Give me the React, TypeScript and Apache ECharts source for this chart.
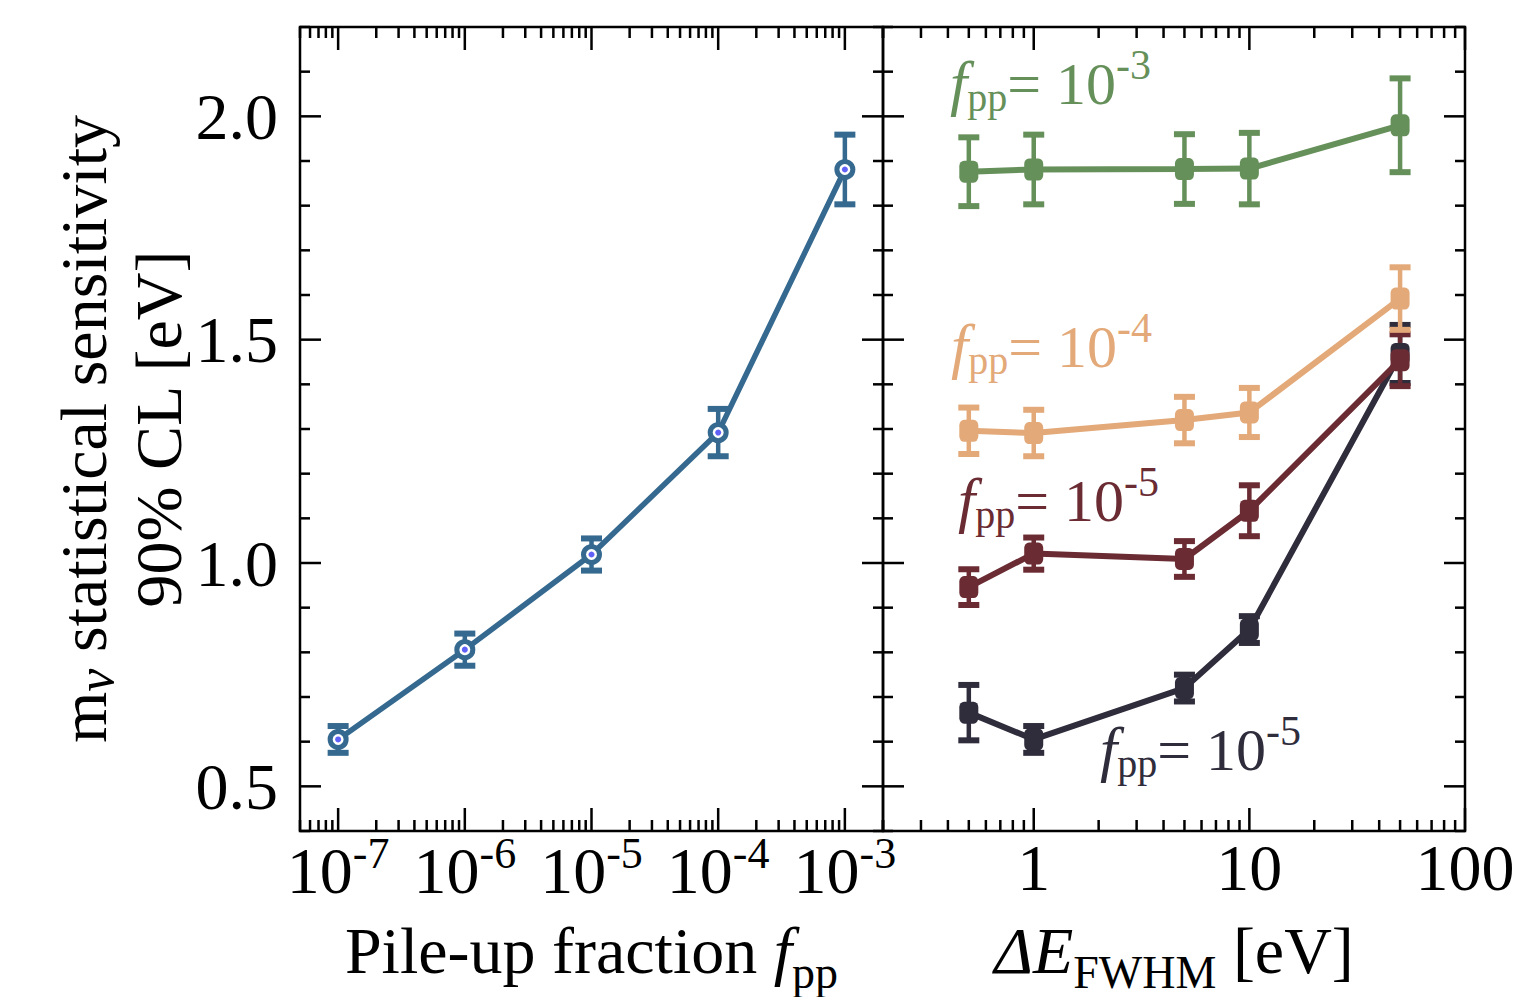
import React, { useEffect, useRef } from 'react';
import * as echarts from 'echarts';

const FONT = '"Liberation Serif", "Times New Roman", serif';

// ---- data ----
const fppValues = [1e-7, 1e-6, 1e-5, 1e-4, 1e-3];
const fppSens = [0.605, 0.806, 1.019, 1.292, 1.881];
const fppErr = [0.03, 0.036, 0.036, 0.053, 0.078];

const fwhmValues = [0.5, 1, 5, 10, 50];
const sensF3 = [1.876, 1.881, 1.882, 1.883, 1.98];
const errF3 = [0.077, 0.078, 0.078, 0.08, 0.105];
const sensF4 = [1.296, 1.291, 1.32, 1.337, 1.592];
const errF4 = [0.052, 0.052, 0.052, 0.055, 0.07];
const sensF5a = [0.946, 1.021, 1.009, 1.117, 1.454];
const errF5a = [0.04, 0.036, 0.04, 0.057, 0.058];
const sensF5b = [0.665, 0.605, 0.72, 0.851, 1.468];
const errF5b = [0.062, 0.03, 0.03, 0.03, 0.065];

const yTickLabels = ['0.5', '1.0', '1.5', '2.0'];
const leftExponents = ['-7', '-6', '-5', '-4', '-3'];
const rightTickLabels = ['1', '10', '100'];

// ---- axis ranges ----
const Y_MIN = 0.4;
const Y_MAX = 2.2;
const L_MIN = 5e-8;
const L_MAX = 2e-3;
const R_MIN = 0.2;
const R_MAX = 100;

const BLUE = '#35698f';
const GREEN = '#66905a';
const PEACH = '#e3a978';
const DRED = '#6a2b33';
const NAVY = '#2f2c3c';

function logTicks(min: number, max: number, k0: number, k1: number) {
  const out: number[][] = [];
  for (let k = k0; k <= k1; k++) {
    for (let m = 1; m <= 9; m++) {
      const v = m * Math.pow(10, k);
      if (v >= min * 0.9999 && v <= max * 1.0001) out.push([v, Y_MIN, m === 1 ? 1 : 0]);
    }
  }
  return out;
}

function yTicks(xEdge: number) {
  const out: number[][] = [];
  for (let i = 0; i <= 18; i++) {
    const y = Math.round((Y_MIN + 0.1 * i) * 10) / 10;
    const major = Math.abs(y * 2 - Math.round(y * 2)) < 1e-6 ? 1 : 0;
    out.push([xEdge, y, major]);
  }
  return out;
}

const xTickRender = () => (params: any, api: any) => {
  const v = api.value(0);
  const major = api.value(2) === 1;
  const b = api.coord([v, Y_MIN]);
  const t = api.coord([v, Y_MAX]);
  const len = major ? 23 : 11;
  const st = { stroke: '#000', lineWidth: 2.5 };
  return {
    type: 'group',
    children: [
      { type: 'line', shape: { x1: b[0], y1: b[1], x2: b[0], y2: b[1] - len }, style: st },
      { type: 'line', shape: { x1: t[0], y1: t[1], x2: t[0], y2: t[1] + len }, style: st },
    ],
  };
};

const yTickRender = (xMin: number, xMax: number) => (params: any, api: any) => {
  const y = api.value(1);
  const major = api.value(2) === 1;
  const l = api.coord([xMin, y]);
  const r = api.coord([xMax, y]);
  const len = major ? 21 : 10;
  const st = { stroke: '#000', lineWidth: 2.5 };
  return {
    type: 'group',
    children: [
      { type: 'line', shape: { x1: l[0], y1: l[1], x2: l[0] + len, y2: l[1] }, style: st },
      { type: 'line', shape: { x1: r[0], y1: r[1], x2: r[0] - len, y2: r[1] }, style: st },
    ],
  };
};

const errRender = (color: string) => (params: any, api: any) => {
  const x = api.value(0);
  const pLo = api.coord([x, api.value(1)]);
  const pHi = api.coord([x, api.value(2)]);
  const hw = 10.5;
  return {
    type: 'group',
    children: [
      { type: 'line', shape: { x1: pLo[0], y1: pLo[1], x2: pHi[0], y2: pHi[1] }, style: { stroke: color, lineWidth: 4.5 } },
      { type: 'line', shape: { x1: pLo[0] - hw, y1: pLo[1], x2: pLo[0] + hw, y2: pLo[1] }, style: { stroke: color, lineWidth: 6 } },
      { type: 'line', shape: { x1: pHi[0] - hw, y1: pHi[1], x2: pHi[0] + hw, y2: pHi[1] }, style: { stroke: color, lineWidth: 6 } },
    ],
  };
};

function errData(xs: number[], ys: number[], es: number[]) {
  return xs.map((x, i) => [x, ys[i] - es[i], ys[i] + es[i]]);
}
function pts(xs: number[], ys: number[]) {
  return xs.map((x, i) => [x, ys[i]]);
}

function isPow10(v: number) {
  const l = Math.log10(v);
  return Math.abs(l - Math.round(l)) < 1e-6;
}

const labelRich = {
  b: { fontFamily: FONT, fontSize: 66, lineHeight: 72, color: '#000', verticalAlign: 'bottom' },
  s: { fontFamily: FONT, fontSize: 44, lineHeight: 72, color: '#000', verticalAlign: 'top' },
};

function annot(text: string, x: number, y: number, color: string) {
  const base = { fontFamily: FONT, fill: color, lineHeight: 70 };
  return {
    type: 'text',
    x,
    y,
    z: 50,
    style: {
      text: text,
      fill: color,
      fontFamily: FONT,
      fontSize: 60,
      verticalAlign: 'top',
      align: 'left',
      rich: {
        f: { ...base, fontSize: 62, fontStyle: 'italic', verticalAlign: 'bottom' },
        sub: { ...base, fontSize: 40, verticalAlign: 'top', padding: [33, 0, 0, 0] },
        eq: { ...base, fontSize: 60, verticalAlign: 'bottom' },
        sup: { ...base, fontSize: 42, verticalAlign: 'top' },
      },
    },
  };
}

function rightLine(name: string, ys: number[], color: string) {
  return {
    name,
    type: 'line',
    xAxisIndex: 1,
    yAxisIndex: 1,
    data: pts(fwhmValues, ys),
    symbol: 'roundRect',
    symbolSize: [19, 22],
    itemStyle: { color },
    lineStyle: { color, width: 6 },
    z: 4,
  };
}

function rightErr(ys: number[], es: number[], color: string) {
  return {
    type: 'custom',
    xAxisIndex: 1,
    yAxisIndex: 1,
    data: errData(fwhmValues, ys, es),
    encode: { x: 0, y: [1, 2] },
    renderItem: errRender(color),
    z: 3,
  };
}

const titleRich = {
  n: { fontFamily: FONT, fontSize: 66, lineHeight: 74, color: '#000', verticalAlign: 'bottom' },
  f: { fontFamily: FONT, fontSize: 66, lineHeight: 74, color: '#000', fontStyle: 'italic', verticalAlign: 'bottom' },
  sub: { fontFamily: FONT, fontSize: 46, lineHeight: 74, color: '#000', verticalAlign: 'top', padding: [40, 0, 0, 0] },
};

export default function App() {
  const ref = useRef<HTMLDivElement>(null);
  useEffect(() => {
    if (!ref.current) return;
    const chart = echarts.init(ref.current, undefined, { renderer: 'svg' });
    const yLabelFmt = (v: number) => {
      const s = (Math.round(v * 10) / 10).toFixed(1);
      return yTickLabels.indexOf(s) >= 0 ? s : '';
    };
    const option: any = {
      animation: false,
      backgroundColor: '#ffffff',
      grid: [
        { left: 300, top: 27, width: 583, height: 804, show: true, borderColor: '#000', borderWidth: 2.5, backgroundColor: 'transparent', containLabel: false, outerBoundsMode: 'none' },
        { left: 883, top: 27, width: 582, height: 804, show: true, borderColor: '#000', borderWidth: 2.5, backgroundColor: 'transparent', containLabel: false, outerBoundsMode: 'none' },
      ],
      xAxis: [
        {
          type: 'log', gridIndex: 0, min: L_MIN, max: L_MAX, logBase: 10,
          axisLine: { show: false }, axisTick: { show: false }, splitLine: { show: false }, minorTick: { show: false },
          axisLabel: {
            margin: 0, rich: labelRich, showMinLabel: false, showMaxLabel: false,
            formatter: (v: number) => {
              if (!isPow10(v)) return '';
              const e = String(Math.round(Math.log10(v)));
              return leftExponents.indexOf(e) >= 0 ? `{b|10}{s|${e}}` : '';
            },
          },
          name: '{n|Pile-up fraction }{f|f}{sub|pp}',
          nameLocation: 'middle',
          nameGap: 78,
          nameTextStyle: { rich: titleRich },
        },
        {
          type: 'log', gridIndex: 1, min: R_MIN, max: R_MAX, logBase: 10,
          axisLine: { show: false }, axisTick: { show: false }, splitLine: { show: false }, minorTick: { show: false },
          axisLabel: {
            margin: 0, fontFamily: FONT, fontSize: 66, color: '#000', lineHeight: 72, showMinLabel: false,
            formatter: (v: number) => {
              if (!isPow10(v)) return '';
              const s = String(Math.round(v));
              return rightTickLabels.indexOf(s) >= 0 ? s : '';
            },
          },
          name: '{f|ΔE}{sub|FWHM}{n| [eV]}',
          nameLocation: 'middle',
          nameGap: 78,
          nameTextStyle: { rich: titleRich },
        },
      ],
      yAxis: [
        {
          type: 'value', gridIndex: 0, min: Y_MIN, max: Y_MAX, interval: 0.1,
          axisLine: { show: false }, axisTick: { show: false }, splitLine: { show: false },
          axisLabel: { margin: 22, fontFamily: FONT, fontSize: 66, color: '#000', formatter: yLabelFmt },
          name: '{n|m}{nu|ν}{n| statistical sensitivity}\n{n|90% CL [eV]}',
          nameLocation: 'middle',
          nameRotate: 90,
          nameGap: 102,
          nameTextStyle: {
            align: 'center',
            rich: {
              n: { fontFamily: FONT, fontSize: 66, lineHeight: 75, color: '#000', verticalAlign: 'bottom', align: 'center' },
              nu: { fontFamily: FONT, fontSize: 52, lineHeight: 75, color: '#000', fontStyle: 'italic', verticalAlign: 'top', padding: [28, 0, 0, 0] },
            },
          },
        },
        {
          type: 'value', gridIndex: 1, min: Y_MIN, max: Y_MAX, interval: 0.1,
          axisLine: { show: false }, axisTick: { show: false }, splitLine: { show: false },
          axisLabel: { show: false },
        },
      ],
      graphic: [
        annot('{f|f}{sub|pp}{eq|= 10}{sup|-3}', 950, 44, GREEN),
        annot('{f|f}{sub|pp}{eq|= 10}{sup|-4}', 951, 307, PEACH),
        annot('{f|f}{sub|pp}{eq|= 10}{sup|-5}', 958, 461, DRED),
        annot('{f|f}{sub|pp}{eq|= 10}{sup|-5}', 1100, 710, NAVY),
      ],
      series: [
        // ticks
        { type: 'custom', xAxisIndex: 0, yAxisIndex: 0, data: logTicks(L_MIN, L_MAX, -8, -3), encode: { x: 0, y: 1 }, renderItem: xTickRender(), z: 20, silent: true },
        { type: 'custom', xAxisIndex: 0, yAxisIndex: 0, data: yTicks(L_MIN), encode: { x: 0, y: 1 }, renderItem: yTickRender(L_MIN, L_MAX), z: 20, silent: true },
        { type: 'custom', xAxisIndex: 1, yAxisIndex: 1, data: logTicks(R_MIN, R_MAX, -1, 2), encode: { x: 0, y: 1 }, renderItem: xTickRender(), z: 20, silent: true },
        { type: 'custom', xAxisIndex: 1, yAxisIndex: 1, data: yTicks(R_MIN), encode: { x: 0, y: 1 }, renderItem: yTickRender(R_MIN, R_MAX), z: 20, silent: true },
        // left panel
        {
          type: 'custom', xAxisIndex: 0, yAxisIndex: 0,
          data: errData(fppValues, fppSens, fppErr), encode: { x: 0, y: [1, 2] },
          renderItem: errRender(BLUE), z: 3,
        },
        {
          type: 'line', xAxisIndex: 0, yAxisIndex: 0,
          data: pts(fppValues, fppSens),
          symbol: 'circle', symbolSize: 16,
          itemStyle: { color: '#ffffff', borderColor: BLUE, borderWidth: 5 },
          lineStyle: { color: BLUE, width: 5.5 },
          z: 4,
        },
        {
          type: 'scatter', xAxisIndex: 0, yAxisIndex: 0,
          data: pts(fppValues, fppSens),
          symbol: 'circle', symbolSize: 6,
          itemStyle: { color: '#3a3af5' },
          z: 5,
        },
        // right panel
        rightErr(sensF5b, errF5b, NAVY),
        rightLine('f5b', sensF5b, NAVY),
        rightErr(sensF5a, errF5a, DRED),
        rightLine('f5a', sensF5a, DRED),
        rightErr(sensF4, errF4, PEACH),
        rightLine('f4', sensF4, PEACH),
        rightErr(sensF3, errF3, GREEN),
        rightLine('f3', sensF3, GREEN),
      ],
    };
    chart.setOption(option);
    return () => chart.dispose();
  }, []);
  return (
    <div
      ref={ref}
      style={{ position: 'absolute', left: 0, top: 0, width: 1515, height: 997, background: '#fff' }}
    />
  );
}
